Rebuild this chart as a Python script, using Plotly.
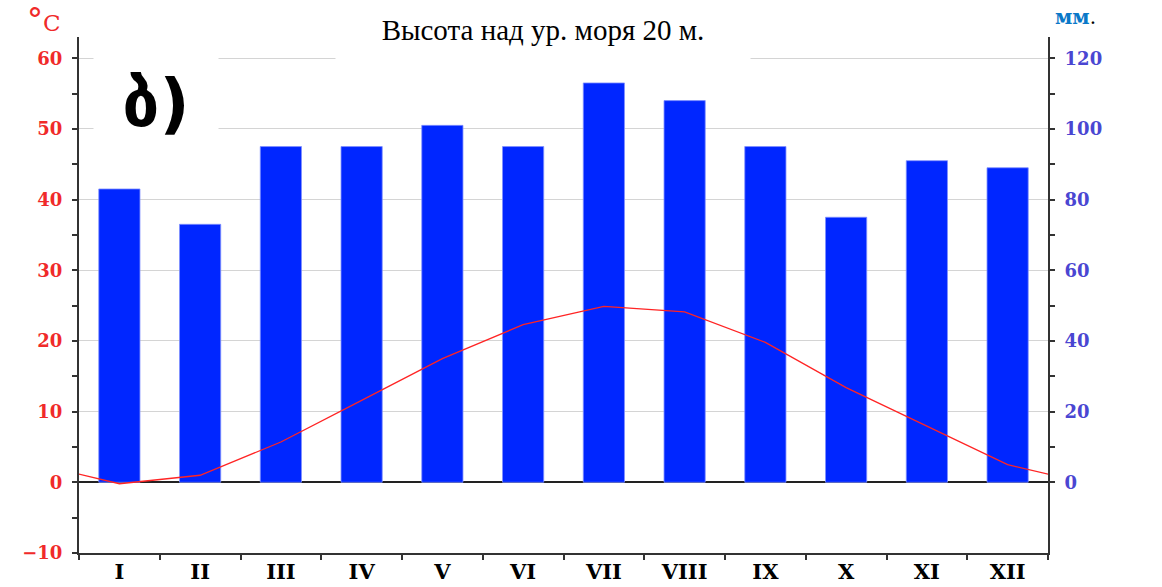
import plotly.graph_objects as go

months = ["I", "II", "III", "IV", "V", "VI", "VII", "VIII", "IX", "X", "XI", "XII"]
precip_mm = [83, 73, 95, 95, 101, 95, 113, 108, 95, 75, 91, 89]
temp_c = [-0.2, 1.0, 5.7, 11.6, 17.5, 22.3, 24.9, 24.1, 19.8, 13.4, 8.0, 2.5]
temp_ticks = [-10, 0, 10, 20, 30, 40, 50, 60]
precip_ticks = [0, 20, 40, 60, 80, 100, 120]

idx = list(range(len(months)))
# wrap the temperature curve around the year (previous Dec, next Jan)
line_x = [-1] + idx + [len(months)]
line_y = [temp_c[-1]] + temp_c + [temp_c[0]]

serif = "DejaVu Serif"
red = "#f02a2a"
purple = "#4a46d2"
axcol = "#333333"

fig = go.Figure()
# bars on the mm axis (y, right side); temperature on the overlaying °C axis (y2, left side)
fig.add_trace(go.Bar(
    x=idx, y=precip_mm, yaxis="y", width=0.51,
    marker=dict(color="#0026ff", line=dict(color="#7f8fff", width=0.8)),
    showlegend=False,
))
fig.add_trace(go.Scatter(
    x=line_x, y=line_y, mode="lines", yaxis="y2",
    line=dict(color="#ff2424", width=1.3),
    showlegend=False,
))

fig.update_layout(
    width=1162, height=587,
    margin=dict(l=79, r=114, t=37, b=34),
    paper_bgcolor="white", plot_bgcolor="white",
    xaxis=dict(
        range=[-0.5, 11.5], tickmode="array", tickvals=idx, ticktext=months,
        ticks="", showgrid=False, zeroline=False, automargin=False,
        showline=True, linecolor=axcol, linewidth=2,
        tickfont=dict(family=serif, size=21, color="black", weight="bold"),
        minor=dict(tick0=-0.5, dtick=1, ticks="outside", ticklen=5, tickwidth=2, tickcolor=axcol, showgrid=False),
        ticklabelstandoff=-1,
    ),
    yaxis=dict(
        range=[-20, 126], side="right", tickmode="array", tickvals=precip_ticks,
        ticks="outside", ticklen=5, tickwidth=1.5, tickcolor=axcol,
        showline=True, linecolor=axcol, linewidth=2, automargin=False,
        showgrid=False, zeroline=False,
        tickfont=dict(family=serif, size=18, color=purple, weight="bold"),
        minor=dict(tickmode="array", tickvals=[10, 30, 50, 70, 90, 110], ticks="outside",
                   ticklen=5, tickwidth=1.5, tickcolor=axcol, showgrid=False),
        ticklabelstandoff=6,
    ),
    yaxis2=dict(
        range=[-10, 63], overlaying="y", side="left", tickmode="array", tickvals=temp_ticks,
        ticks="outside", ticklen=5, tickwidth=1.5, tickcolor=axcol,
        showline=True, linecolor=axcol, linewidth=2, automargin=False,
        showgrid=True, gridcolor="#d4d4d4", gridwidth=1.2,
        zeroline=True, zerolinecolor="#222222", zerolinewidth=1.5,
        tickfont=dict(family=serif, size=18, color=red, weight="bold"),
        minor=dict(tickmode="array", tickvals=[-5, 5, 15, 25, 35, 45, 55], ticks="outside",
                   ticklen=5, tickwidth=1.5, tickcolor=axcol, showgrid=False),
        ticklabelstandoff=6,
    ),
    annotations=[
        dict(text="Высота над ур. моря 20 м.", xref="paper", yref="paper",
             x=0.479, y=1.0136, xanchor="center", yanchor="middle",
             showarrow=False, font=dict(family="Liberation Serif", size=29, color="black"),
             bgcolor="white", width=412, height=64),
        dict(text="ბ)", xref="paper", yref="paper", x=0.014, y=0.965,
             xanchor="left", yanchor="top", showarrow=False,
             font=dict(family="DejaVu Sans", size=66, color="black", weight="bold"),
             bgcolor="white", width=122, height=92),
        dict(text="<span style='font-size:32px'>°</span>C", xref="paper", yref="paper",
             x=-0.036, y=1.0, xanchor="center", yanchor="bottom", yshift=-4,
             showarrow=False, font=dict(family=serif, size=23, color=red)),
        dict(text="<span style='color:#0a78c8'><b>мм</b></span>.", xref="paper", yref="paper",
             x=1.005, y=1.039, xanchor="left", yanchor="middle",
             showarrow=False, font=dict(family=serif, size=20, color="black")),
    ],
)

fig.write_html("out.html", config={"displayModeBar": False},
               post_script="document.body.style.margin='0';document.body.style.padding='0';")
